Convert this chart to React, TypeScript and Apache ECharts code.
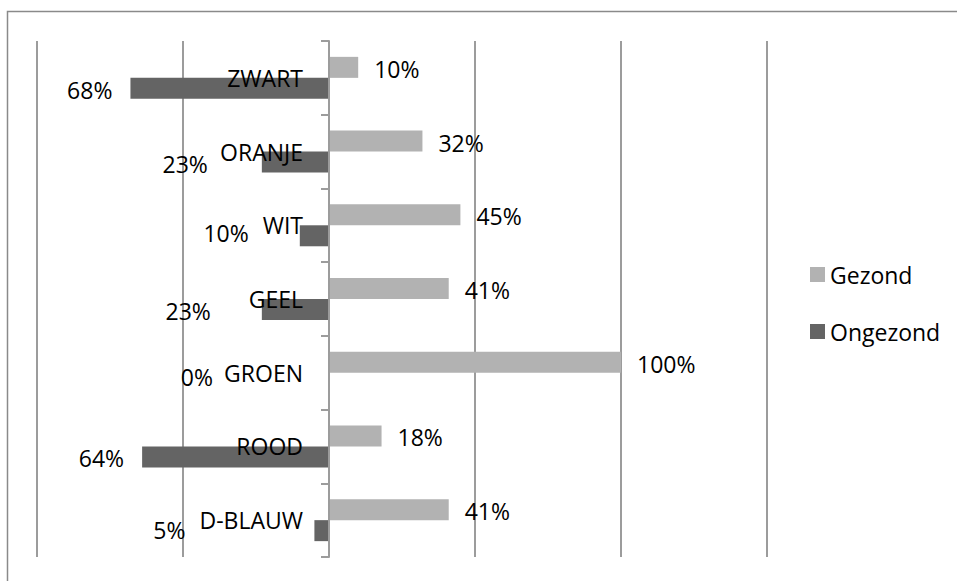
import React, { useEffect, useRef } from "react";
import * as echarts from "echarts";

// Kleuren van eten: aandeel gezond / ongezond per kleur
const categories = ["ZWART", "ORANJE", "WIT", "GEEL", "GROEN", "ROOD", "D-BLAUW"];
const gezond = [10, 32, 45, 41, 100, 18, 41];
const ongezond = [68, 23, 10, 23, 0, 64, 5];
const seriesNames = ["Gezond", "Ongezond"];
const xMin = -100;
const xMax = 150;
const xStep = 50;

// Label nudges (px) for the "Ongezond" value labels, which sit clear of the category names
const ongezondLabelNudge: [number, number][] = [
  [0, 2],
  [-36, 1.5],
  [-33, -2.5],
  [-33, 1.5],
  [-98, -6.5],
  [0, 1.5],
  [-111, -1],
];

const FONT = "'Open Sans', 'Liberation Sans', sans-serif";
const FONT_SIZE = 23;
const LIGHT = "#b2b2b2";
const DARK = "#646464";
const GRID_COLOR = "#9c9c9c";
const GRID_LEFT = 37;
const GRID_RIGHT = 190;
const WIDTH = 957;
const HEIGHT = 581;

export default function App() {
  const ref = useRef<HTMLDivElement>(null);

  useEffect(() => {
    if (!ref.current) return;
    const chart = echarts.init(ref.current, null, { renderer: "svg" });

    const pct = (v: number) => `${Math.abs(v)}%`;
    // shift the category axis from the grid's left edge onto the zero line
    const plotWidth = WIDTH - GRID_LEFT - GRID_RIGHT;
    const zeroShift = ((0 - xMin) / (xMax - xMin)) * plotWidth;

    chart.setOption({
      animation: false,
      backgroundColor: "#ffffff",
      textStyle: { fontFamily: FONT },
      grid: {
        left: GRID_LEFT,
        right: GRID_RIGHT,
        top: 41,
        bottom: 24,
        containLabel: false,
        outerBoundsMode: "none",
      },
      legend: {
        orient: "vertical",
        left: 810,
        top: 263,
        padding: 0,
        itemWidth: 15,
        itemHeight: 15,
        itemGap: 34,
        icon: "rect",
        data: seriesNames,
        textStyle: { fontFamily: FONT, fontSize: FONT_SIZE, color: "#000" },
      },
      graphic: [
        {
          type: "polyline",
          silent: true,
          shape: { points: [[7.5, HEIGHT], [7.5, 11.5], [WIDTH, 11.5]] },
          style: { stroke: "#8a8a8a", lineWidth: 1.5, fill: null },
        },
      ],
      xAxis: {
        type: "value",
        min: xMin,
        max: xMax,
        interval: xStep,
        axisLabel: { show: false },
        axisLine: { show: false },
        axisTick: { show: false },
        splitLine: { show: true, lineStyle: { color: GRID_COLOR, width: 2 } },
      },
      yAxis: {
        type: "category",
        inverse: true,
        data: categories,
        position: "left",
        offset: -zeroShift,
        z: 5,
        axisLine: { show: true, onZero: false, lineStyle: { color: GRID_COLOR, width: 2 } },
        axisTick: { show: true, length: 8, lineStyle: { color: GRID_COLOR, width: 2 } },
        axisLabel: {
          margin: 26,
          color: "#000",
          fontFamily: FONT,
          fontSize: FONT_SIZE,
        },
      },
      series: [
        {
          name: seriesNames[0],
          type: "bar",
          data: gezond,
          barWidth: 21,
          barGap: "0%",
          itemStyle: { color: LIGHT },
          label: {
            show: true,
            position: "right",
            distance: 16,
            offset: [0, 1.5],
            formatter: (p: any) => pct(p.value),
            color: "#000",
            fontFamily: FONT,
            fontSize: FONT_SIZE,
          },
        },
        {
          name: seriesNames[1],
          type: "bar",
          barWidth: 21,
          barGap: "0%",
          data: ongezond.map((v, i) => ({
            value: -v,
            label: { offset: ongezondLabelNudge[i] },
          })),
          itemStyle: { color: DARK },
          label: {
            show: true,
            position: "left",
            distance: 18,
            formatter: (p: any) => pct(p.value),
            color: "#000",
            fontFamily: FONT,
            fontSize: FONT_SIZE,
          },
        },
      ],
    });

    return () => chart.dispose();
  }, []);

  return (
    <div
      ref={ref}
      style={{ position: "absolute", left: 0, top: 0, width: WIDTH, height: HEIGHT }}
    />
  );
}
